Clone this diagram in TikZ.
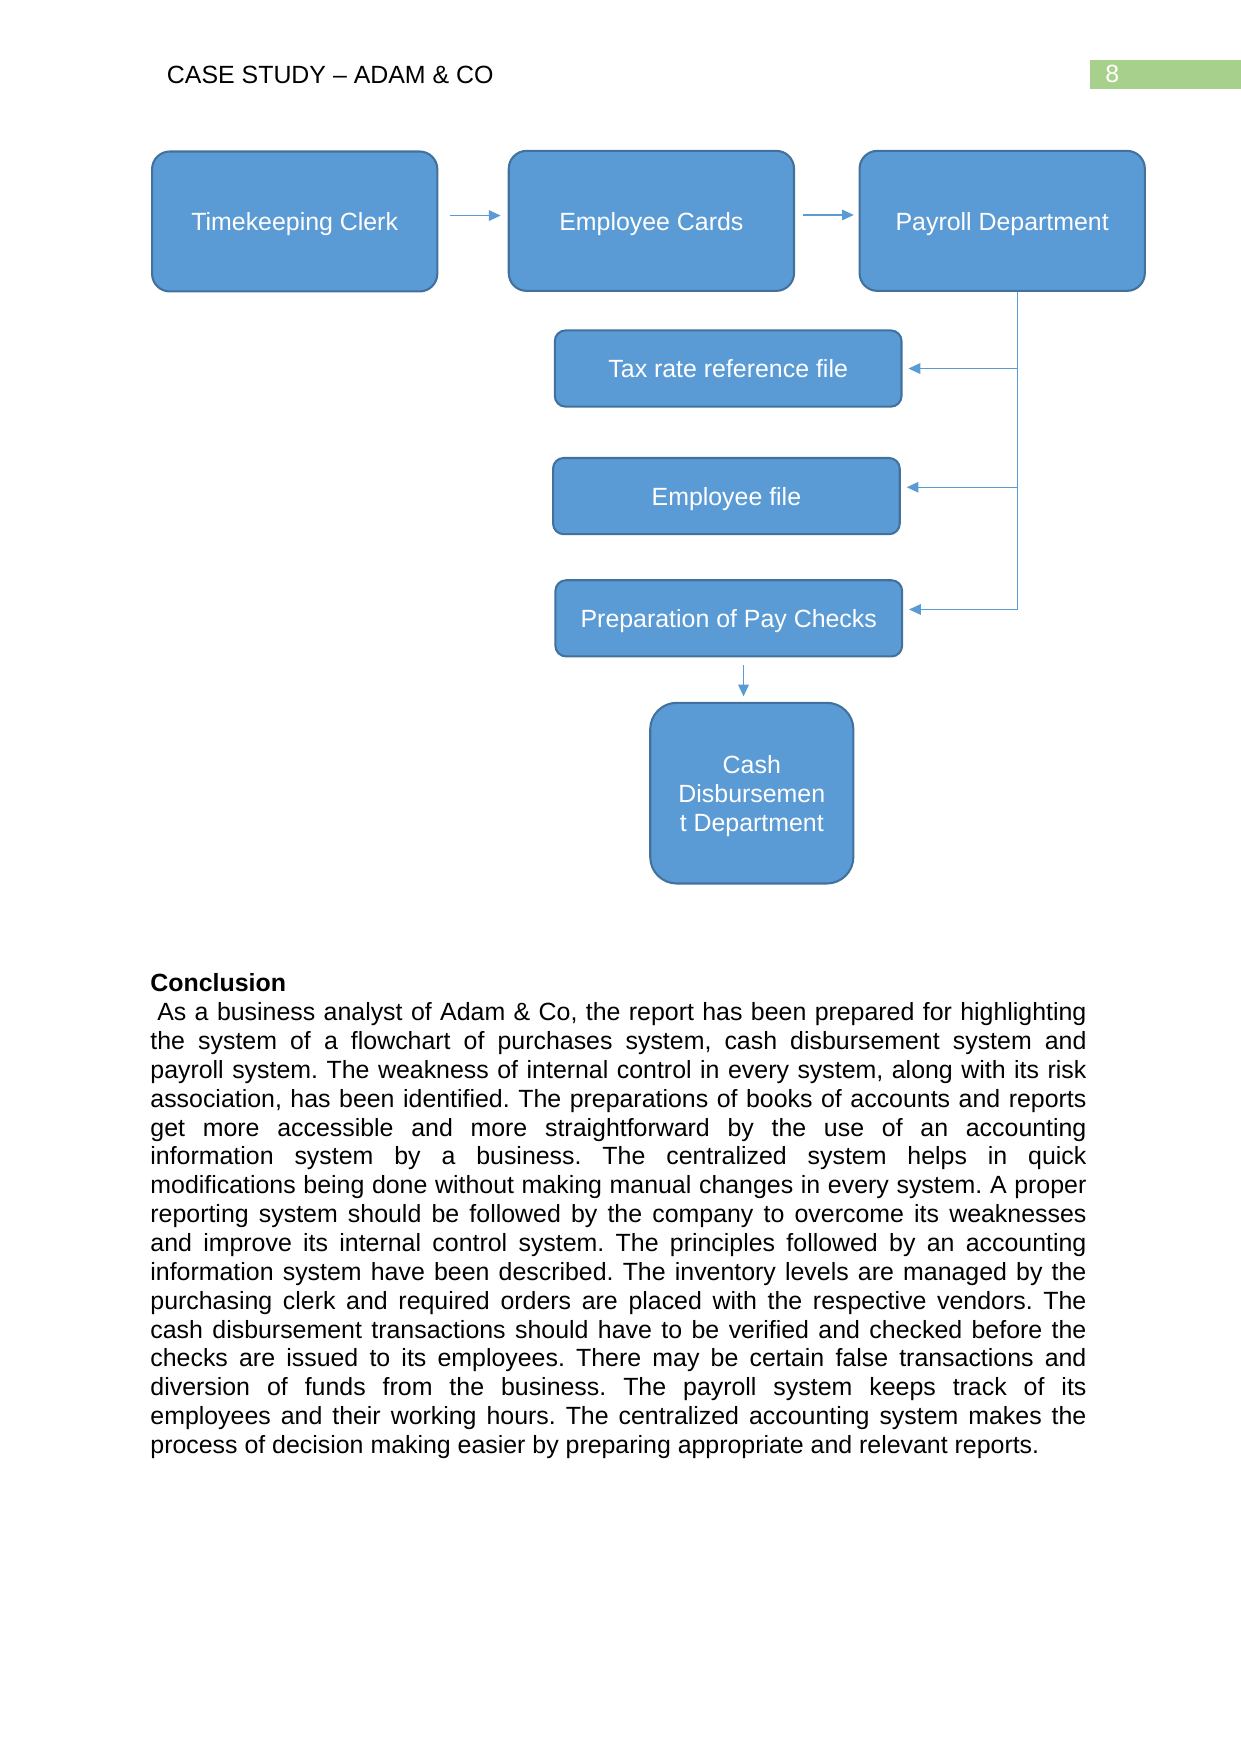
\documentclass[tikz,border=0pt]{standalone}
\usepackage{fontspec}
\setmainfont{Liberation Sans}
\usepackage{tikz}
\usetikzlibrary{shapes,arrows.meta,positioning,calc}
\usepackage{xcolor}
\definecolor{boxblue}{HTML}{5B9BD5}
\definecolor{boxedge}{HTML}{41719C}
\definecolor{pagegreen}{HTML}{A8D08D}
\setlength{\parindent}{0pt}
\frenchspacing

\begin{document}
\begin{tikzpicture}[
    x=1mm, y=-1mm,
    every node/.style={font=\fontsize{12}{13.9}\selectfont},
    shape box/.style={rectangle, draw=boxedge, line width=1pt, fill=boxblue, text=white, align=center},
    dept/.style={shape box, rounded corners=3mm, minimum width=48.3mm, minimum height=23.7mm, text height=11.5pt, text depth=2.5pt},
    record/.style={dept, rounded corners=1.8mm, minimum width=58.7mm, minimum height=12.9mm},
    link/.style={draw=boxblue, line width=0.6pt},
    >={Triangle[length=2mm, width=1.8mm]},
]
    \useasboundingbox (0, 0) rectangle (210, 297);

    \node[anchor=base west, inner sep=0] (title) at (28.2, 14.1) {CASE STUDY – ADAM \& CO};
    \node[fill=pagegreen, text=white, anchor=west, text width=20.3mm, inner xsep=2.6mm, inner ysep=0, minimum height=4.95mm] (pagenum) at (184.5, 12.6) {8};

    \node[dept] (clerk) at (49.9, 37.5) {Timekeeping Clerk};
    \node[dept] (cards) at (110.3, 37.4) {Employee Cards};
    \node[dept] (payroll) at (169.7, 37.4) {Payroll Department};
    \node[record] (taxfile) at (123.3, 62.4) {Tax rate reference file};
    \node[record] (empfile) at (123.0, 84.0) {Employee file};
    \node[record] (paychecks) at (123.4, 104.7) {Preparation of Pay Checks};
    \node[shape box, rounded corners=4.5mm, minimum width=34.4mm, minimum height=30.6mm, text depth=0pt] (cash) at (127.3, 134.3) {Cash\\Disbursemen\\t Department};

    \draw[link, ->, shorten <=2mm, shorten >=1.2mm] ([yshift=1mm]clerk.east) -- ([yshift=1mm]clerk.east -| cards.west);
    \draw[link, ->, shorten <=1.3mm, shorten >=0.8mm] ([yshift=1mm]cards.east) -- ([yshift=1mm]cards.east -| payroll.west);

    \coordinate (trunk) at (172.3, 103.2);
    \draw[link] (payroll.south -| trunk) -- (trunk);
    \draw[link, ->, shorten >=1mm] (taxfile.east -| trunk) -- (taxfile.east);
    \draw[link, ->, shorten >=1mm] ([yshift=1.5mm]empfile.east -| trunk) -- ([yshift=1.5mm]empfile.east);
    \draw[link, ->, shorten >=1mm] (trunk) -- (trunk -| paychecks.east);
    \draw[link, ->, shorten <=1.3mm, shorten >=0.9mm] ([xshift=2.5mm]paychecks.south) -- ([xshift=2.5mm]paychecks.south |- cash.north);

    \node[anchor=base west, inner sep=0, text width=158.5mm, align=justify] (summary) at (25.4, 167.95) {\hyphenpenalty=10000\exhyphenpenalty=10000
    \textbf{Conclusion}\par
    \hspace*{3.3pt}As a business analyst of Adam \& Co, the report has been prepared for highlighting\linebreak
    the system of a flowchart of purchases system, cash disbursement system and\linebreak
    payroll system. The weakness of internal control in every system, along with its risk\linebreak
    association, has been identified. The preparations of books of accounts and reports\linebreak
    get more accessible and more straightforward by the use of an accounting\linebreak
    information system by a business. The centralized system helps in quick\linebreak
    modifications being done without making manual changes in every system. A proper\linebreak
    reporting system should be followed by the company to overcome its weaknesses\linebreak
    and improve its internal control system. The principles followed by an accounting\linebreak
    information system have been described. The inventory levels are managed by the\linebreak
    purchasing clerk and required orders are placed with the respective vendors. The\linebreak
    cash disbursement transactions should have to be verified and checked before the\linebreak
    checks are issued to its employees. There may be certain false transactions and\linebreak
    diversion of funds from the business. The payroll system keeps track of its\linebreak
    employees and their working hours. The centralized accounting system makes the\linebreak
    process of decision making easier by preparing appropriate and relevant reports.};
\end{tikzpicture}
\end{document}
